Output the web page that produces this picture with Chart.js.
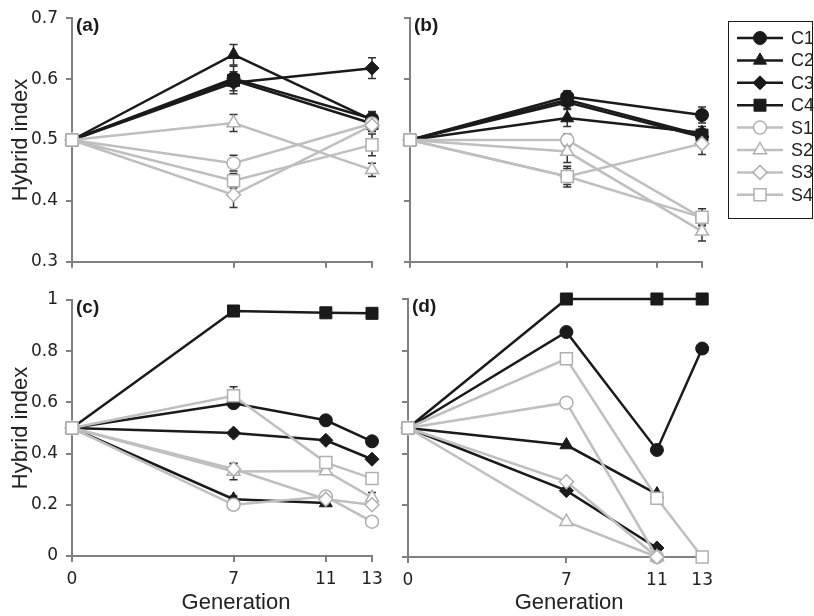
<!DOCTYPE html>
<html>
<head>
<meta charset="utf-8">
<script src="https://cdn.jsdelivr.net/npm/chart.js@4.4.1/dist/chart.umd.min.js"></script>
<style>
  body { margin: 0; background: #fff; }
  #wrap { position: relative; width: 814px; height: 616px; overflow: hidden; }
  canvas { position: absolute; }
</style>
</head>
<body>
<div id="wrap">
  <canvas id="chartA" width="390" height="280" style="left:0;top:0"></canvas>
  <canvas id="chartB" width="424" height="280" style="left:390px;top:0"></canvas>
  <canvas id="chartC" width="390" height="336" style="left:0;top:280px"></canvas>
  <canvas id="chartD" width="330" height="336" style="left:390px;top:280px"></canvas>
</div>
<script>
// Séries e gerações
const seriesNames = ['C1', 'C2', 'C3', 'C4', 'S1', 'S2', 'S3', 'S4'];
const genShort = [0, 7, 13];       // painéis (a) e (b)
const genLong = [0, 7, 11, 13];    // painéis (c) e (d)
const genTicks = [0, 7, 11, 13];
const yTicksTop = [0.3, 0.4, 0.5, 0.6, 0.7];
const yTicksBottom = [0, 0.2, 0.4, 0.6, 0.8, 1];

// Painel (a)
const aC1 = [0.5, 0.601, 0.535];
const aC2 = [0.5, 0.640, 0.533];
const aC3 = [0.5, 0.594, 0.618];
const aC4 = [0.5, 0.598, 0.527];
const aS1 = [0.5, 0.462, 0.527];
const aS2 = [0.5, 0.528, 0.451];
const aS3 = [0.5, 0.410, 0.524];
const aS4 = [0.5, 0.433, 0.492];
const aErrC = [[0, 0.020, 0.012], [0, 0.017, 0.013], [0, 0.018, 0.017], [0, 0.010, 0.010]];
const aErrS = [[0, 0.013, 0.010], [0, 0.014, 0.011], [0, 0.021, 0.010], [0, 0.012, 0.018]];

// Painel (b)
const bC1 = [0.5, 0.571, 0.541];
const bC2 = [0.5, 0.536, 0.512];
const bC3 = [0.5, 0.562, 0.505];
const bC4 = [0.5, 0.566, 0.508];
const bS1 = [0.5, 0.500, 0.372];
const bS2 = [0.5, 0.481, 0.350];
const bS3 = [0.5, 0.440, 0.494];
const bS4 = [0.5, 0.440, 0.373];
const bErrC = [[0, 0.010, 0.013], [0, 0.014, 0.010], [0, 0.010, 0.010], [0, 0.010, 0.010]];
const bErrS = [[0, 0.010, 0.010], [0, 0.018, 0.016], [0, 0.013, 0.018], [0, 0.017, 0.014]];

// Painel (c)
const cC1 = [0.5, 0.597, 0.530, 0.448];
const cC2 = [0.5, 0.222, 0.207];
const cC3 = [0.5, 0.480, 0.452, 0.378];
const cC4 = [0.5, 0.957, 0.950, 0.948];
const cS1 = [0.5, 0.200, 0.232, 0.134];
const cS2 = [0.5, 0.330, 0.332, 0.228];
const cS3 = [0.5, 0.340, 0.222, 0.200];
const cS4 = [0.5, 0.626, 0.365, 0.303];
const cErrC = [[0, 0.01, 0.01, 0.01], [0, 0.012, 0.01], [0, 0.012, 0.01, 0.01], [0, 0, 0, 0]];
const cErrS = [[0, 0.01, 0.01, 0.01], [0, 0.032, 0.01, 0.02], [0, 0.02, 0.01, 0.01], [0, 0.035, 0.01, 0.01]];

// Painel (d)
const dC1 = [0.5, 0.872, 0.415, 0.808];
const dC2 = [0.5, 0.434, 0.244];
const dC3 = [0.5, 0.257, 0.035];
const dC4 = [0.5, 1.0, 1.0, 1.0];
const dS1 = [0.5, 0.598, 0];
const dS2 = [0.5, 0.137, 0];
const dS3 = [0.5, 0.292, 0];
const dS4 = [0.5, 0.768, 0.228, 0];

const black = '#1a1a1a';
const grey = '#bfbfbf';
const greyMarker = '#b0b0b0';
const axisColor = '#808080';
const tickFont = { family: '"DejaVu Sans", Verdana, sans-serif', size: 17 };
const shapes = ['circle', 'triangle', 'rectRot', 'rect', 'circle', 'triangle', 'rectRot', 'rect'];
const radii = { circle: 6.5, triangle: 7.5, rectRot: 7, rect: 8.5 };

function makeSets(gens, vals, errs) {
    return vals.map((v, i) => {
        const isC = i < 4;
        return {
            label: seriesNames[i],
            data: v.map((y, k) => ({ x: gens[k], y: y })),
            errors: errs ? errs[i] : null,
            borderColor: isC ? black : grey,
            backgroundColor: isC ? black : '#ffffff',
            borderWidth: 2.5,
            pointStyle: shapes[i],
            pointRadius: radii[shapes[i]],
            pointBackgroundColor: isC ? black : '#ffffff',
            pointBorderColor: isC ? black : greyMarker,
            pointBorderWidth: isC ? 1 : 1.5,
            order: 8 - i,
            clip: false,
            tension: 0
        };
    });
}

function makeScales(o) {
    return {
        x: {
            type: 'linear', min: 0, max: 13,
            afterBuildTicks: s => { s.ticks = genTicks.map(v => ({ value: v })); },
            afterFit: s => { s.height = o.xHeight; },
            grid: { display: true, drawOnChartArea: false, drawTicks: true, tickLength: 6, color: axisColor, lineWidth: 2 },
            border: { display: true, color: axisColor, width: 2 },
            ticks: { callback: v => o.xLabels ? String(v) : '', font: tickFont, color: '#222', padding: 7, maxRotation: 0, autoSkip: false }
        },
        y: {
            type: 'linear', min: o.yMin, max: o.yMax,
            afterBuildTicks: s => { s.ticks = o.yTicks.map(v => ({ value: v })); },
            afterFit: s => { s.width = o.yWidth; },
            grid: { display: true, drawOnChartArea: false, drawTicks: true, tickLength: 6, color: axisColor, lineWidth: 2 },
            border: { display: true, color: axisColor, width: 2 },
            ticks: { callback: v => o.yLabels ? String(v) : '', font: tickFont, color: '#222', padding: 8 },
            title: {
                display: !!o.yTitle, text: 'Hybrid index', color: '#222',
                font: { family: '"Liberation Sans", Arial, sans-serif', size: 22 },
                padding: { top: 4, bottom: 4 }
            }
        }
    };
}

// Barras de erro
const errorBars = {
    id: 'errorBars',
    beforeDatasetsDraw(chart) {
        const ctx = chart.ctx;
        const xs = chart.scales.x, ys = chart.scales.y;
        chart.data.datasets.forEach(ds => {
            if (!ds.errors) return;
            ctx.save();
            ctx.strokeStyle = '#333';
            ctx.lineWidth = 1.5;
            ds.data.forEach((p, k) => {
                const e = ds.errors[k];
                if (!e) return;
                const px = xs.getPixelForValue(p.x);
                const y1 = ys.getPixelForValue(p.y + e);
                const y2 = ys.getPixelForValue(p.y - e);
                ctx.beginPath();
                ctx.moveTo(px, y1); ctx.lineTo(px, y2);
                ctx.moveTo(px - 4, y1); ctx.lineTo(px + 4, y1);
                ctx.moveTo(px - 4, y2); ctx.lineTo(px + 4, y2);
                ctx.stroke();
            });
            ctx.restore();
        });
    }
};

function drawMarker(ctx, style, r, x, y) {
    ctx.beginPath();
    if (style === 'circle') {
        ctx.arc(x, y, r, 0, Math.PI * 2);
    } else if (style === 'triangle') {
        ctx.moveTo(x, y - r);
        ctx.lineTo(x + r * 0.866, y + r * 0.5);
        ctx.lineTo(x - r * 0.866, y + r * 0.5);
        ctx.closePath();
    } else if (style === 'rectRot') {
        ctx.moveTo(x, y - r); ctx.lineTo(x + r, y); ctx.lineTo(x, y + r); ctx.lineTo(x - r, y);
        ctx.closePath();
    } else {
        const s = r * Math.SQRT1_2;
        ctx.rect(x - s, y - s, 2 * s, 2 * s);
    }
    ctx.fill();
    ctx.stroke();
}

// Rótulo do painel, título do eixo x e legenda
const decorations = {
    id: 'decorations',
    afterDraw(chart, args, opts) {
        const { ctx, chartArea } = chart;
        ctx.save();
        ctx.fillStyle = black;
        ctx.font = 'bold 19px "Liberation Sans", Arial, sans-serif';
        ctx.textBaseline = 'top';
        ctx.textAlign = 'left';
        ctx.fillText(opts.label, chartArea.left + 4, chartArea.top - 2);

        if (opts.xTitle) {
            ctx.fillStyle = '#222';
            ctx.font = '22px "Liberation Sans", Arial, sans-serif';
            ctx.textAlign = 'center';
            ctx.textBaseline = 'middle';
            ctx.fillText('Generation', (chartArea.left + chartArea.right) / 2 + 14, chart.height - 13);
        }

        if (opts.legend) {
            const bx = chartArea.right + 26, by = 21, bw = 84, bh = 197;
            ctx.strokeStyle = black;
            ctx.lineWidth = 1;
            ctx.strokeRect(bx + 0.5, by + 0.5, bw, bh);
            chart.data.datasets.forEach((ds, i) => {
                const y = by + 17 + i * 22.4;
                ctx.strokeStyle = ds.borderColor;
                ctx.lineWidth = ds.borderWidth;
                ctx.beginPath();
                ctx.moveTo(bx + 9, y); ctx.lineTo(bx + 55, y);
                ctx.stroke();
                ctx.fillStyle = ds.pointBackgroundColor;
                ctx.strokeStyle = ds.pointBorderColor;
                ctx.lineWidth = ds.pointBorderWidth;
                drawMarker(ctx, ds.pointStyle, ds.pointRadius, bx + 32, y);
                ctx.fillStyle = '#222';
                ctx.font = '18px "Liberation Sans", Arial, sans-serif';
                ctx.textAlign = 'left';
                ctx.textBaseline = 'middle';
                ctx.fillText(ds.label, bx + 63, y + 1);
            });
        }
        ctx.restore();
    }
};

function makeChart(id, datasets, scaleOpts, padding, deco) {
    return new Chart(document.getElementById(id).getContext('2d'), {
        type: 'line',
        data: { datasets: datasets },
        options: {
            responsive: false,
            animation: false,
            layout: { padding: padding },
            scales: makeScales(scaleOpts),
            plugins: {
                legend: { display: false },
                tooltip: { enabled: false },
                decorations: deco
            }
        },
        plugins: [errorBars, decorations]
    });
}

const chartA = makeChart('chartA',
    makeSets(genShort, [aC1, aC2, aC3, aC4, aS1, aS2, aS3, aS4], aErrC.concat(aErrS)),
    { yMin: 0.3, yMax: 0.7, yTicks: yTicksTop, yWidth: 68, yLabels: true, yTitle: true, xHeight: 12, xLabels: false },
    { top: 15, right: 18, left: 4, bottom: 0 },
    { label: '(a)' });

const chartB = makeChart('chartB',
    makeSets(genShort, [bC1, bC2, bC3, bC4, bS1, bS2, bS3, bS4], bErrC.concat(bErrS)),
    { yMin: 0.3, yMax: 0.7, yTicks: yTicksTop, yWidth: 20, yLabels: false, yTitle: false, xHeight: 12, xLabels: false },
    { top: 15, right: 112, left: 0, bottom: 0 },
    { label: '(b)', legend: true });

const chartC = makeChart('chartC',
    makeSets(genLong, [cC1, cC2, cC3, cC4, cS1, cS2, cS3, cS4], cErrC.concat(cErrS)),
    { yMin: 0, yMax: 1, yTicks: yTicksBottom, yWidth: 68, yLabels: true, yTitle: true, xHeight: 60, xLabels: true },
    { top: 20, right: 18, left: 4, bottom: 0 },
    { label: '(c)', xTitle: true });

const chartD = makeChart('chartD',
    makeSets(genLong, [dC1, dC2, dC3, dC4, dS1, dS2, dS3, dS4], null),
    { yMin: 0, yMax: 1, yTicks: yTicksBottom, yWidth: 18, yLabels: false, yTitle: false, xHeight: 59, xLabels: true },
    { top: 19, right: 15, left: 0, bottom: 0 },
    { label: '(d)', xTitle: true });
</script>
</body>
</html>
